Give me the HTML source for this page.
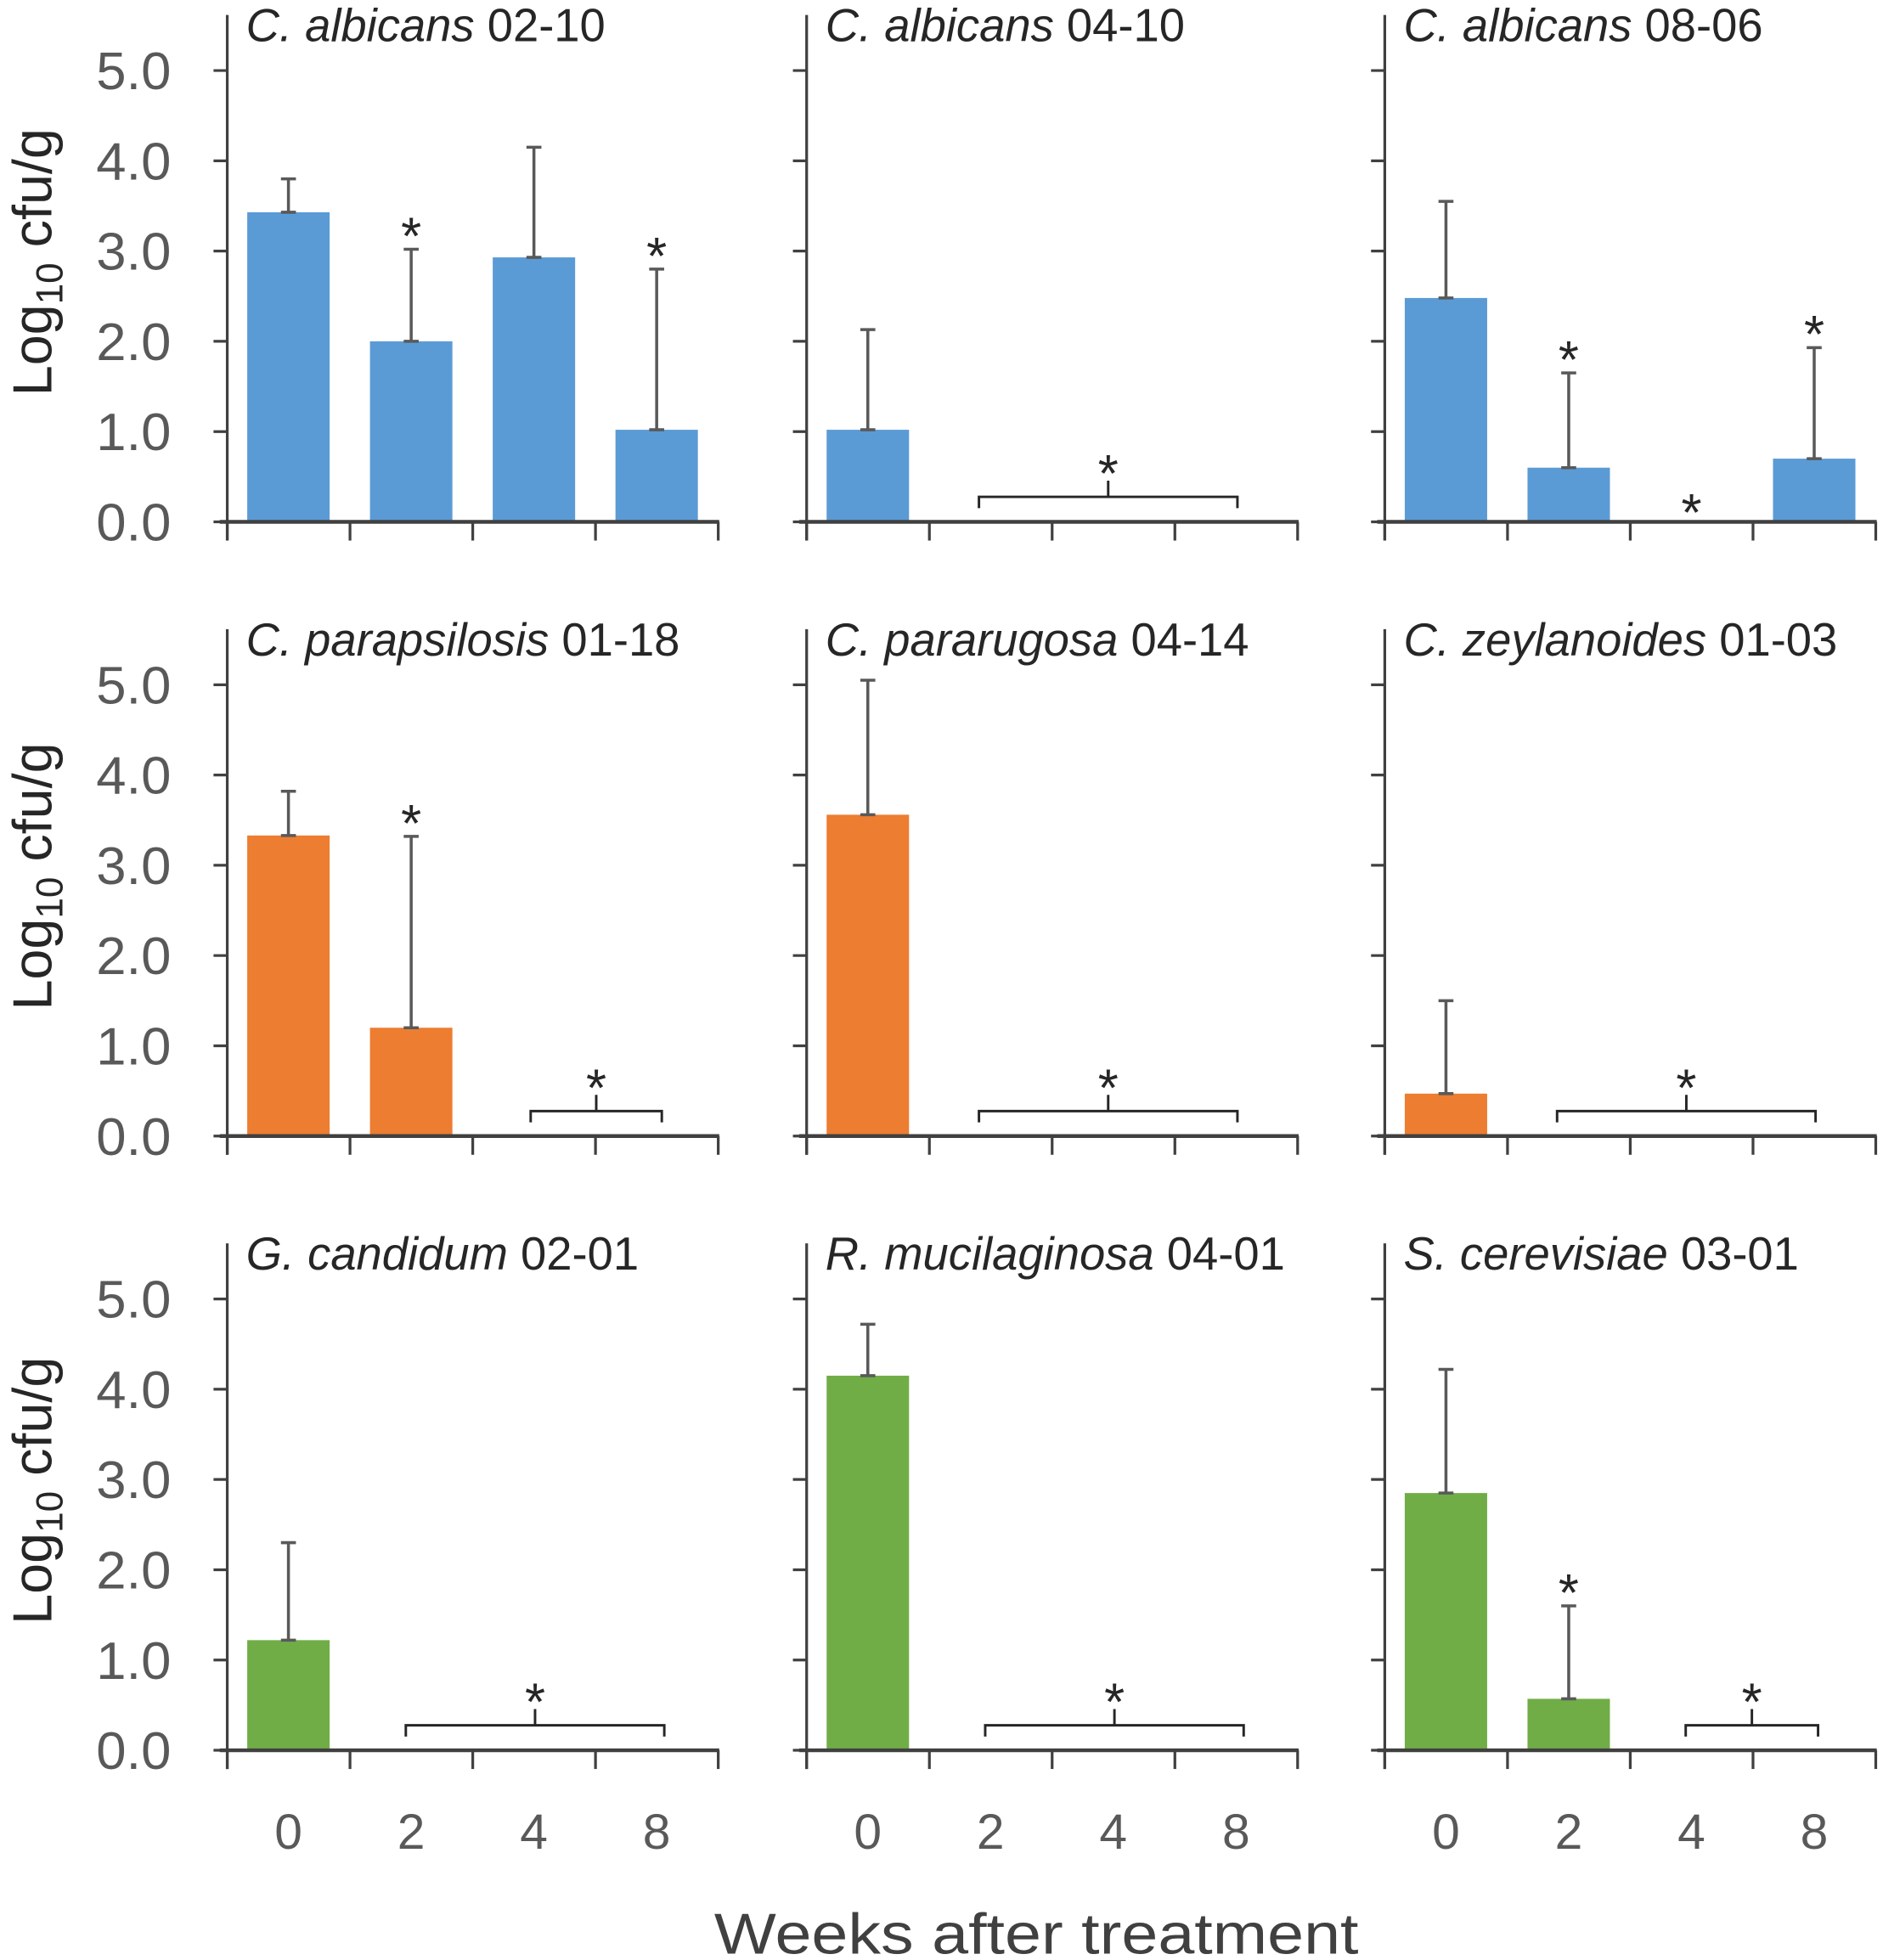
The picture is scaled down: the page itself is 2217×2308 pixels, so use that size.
<!DOCTYPE html>
<html><head><meta charset="utf-8">
<style>html,body{margin:0;padding:0;background:#fff}svg{display:block}</style></head>
<body>
<svg id="s" width="2217" height="2308" viewBox="0 0 1508 1570" preserveAspectRatio="none" xmlns="http://www.w3.org/2000/svg" font-family="'Liberation Sans', sans-serif">
</svg>
<script>
const s=document.getElementById('s');
let h='';
const C=['#5B9BD5','#ED7D31','#70AD47'];
const AX='#404040',TX='#595959';
const cols=[182,646,1109];
const rows=[418,910,1402];
const unit=72.3, sp=98.3;
const titles=[[['C. albicans','02-10'],['C. albicans','04-10'],['C. albicans','08-06']],
[['C. parapsilosis','01-18'],['C. pararugosa','04-14'],['C. zeylanoides','01-03']],
[['G. candidum','02-01'],['R. mucilaginosa','04-01'],['S. cerevisiae','03-01']]];
const data=[
[ {b:[[3.43,3.8,0],[2.0,3.02,1],[2.93,4.15,0],[1.02,2.8,1]]},
  {b:[[1.02,2.13,0]],br:[138,345]},
  {b:[[2.48,3.55,0],[0.6,1.65,1],null,[0.7,1.93,1]],s0:[2]} ],
[ {b:[[3.33,3.82,0],[1.2,3.32,1]],br:[243,348]},
  {b:[[3.56,5.05,0]],br:[138,345]},
  {b:[[0.47,1.5,0]],br:[138,345]} ],
[ {b:[[1.22,2.3,0]],br:[143,350]},
  {b:[[4.15,4.72,0]],br:[143,350]},
  {b:[[2.85,4.22,0],[0.57,1.6,1]],br:[241,347]} ]];
for(let r=0;r<3;r++)for(let c=0;c<3;c++){
 const x0=cols[c],y0=rows[r],d=data[r][c];
 d.b.forEach((b,i)=>{ if(!b)return; const cx=x0+49+i*sp;
  const top=y0-b[0]*unit, et=y0-b[1]*unit;
  h+=`<rect x="${cx-33}" y="${top}" width="66" height="${y0-top}" fill="${C[r]}"/>`;
  h+=`<line x1="${cx}" y1="${top}" x2="${cx}" y2="${et}" stroke="${TX}" stroke-width="2.4"/>`;
  h+=`<line x1="${cx-6}" y1="${et}" x2="${cx+6}" y2="${et}" stroke="${TX}" stroke-width="2.4"/>`;
  h+=`<line x1="${cx-6}" y1="${top}" x2="${cx+6}" y2="${top}" stroke="${TX}" stroke-width="2.4"/>`;
  if(b[2]) h+=`<text x="${cx}" y="${et+4}" font-size="42" text-anchor="middle" fill="#262626">*</text>`;
 });
 if(d.s0) d.s0.forEach(i=>{const cx=x0+49+i*sp;h+=`<text x="${cx}" y="${y0+7}" font-size="42" text-anchor="middle" fill="#262626">*</text>`;});
 if(d.br){ const a=x0+d.br[0], b2=x0+d.br[1], m=(a+b2)/2, yb=y0-20;
  h+=`<path d="M${a} ${y0-11}V${yb}H${b2}V${y0-11}M${m} ${yb}V${yb-13}" fill="none" stroke="#262626" stroke-width="2"/>`;
  h+=`<text x="${m}" y="${yb-4}" font-size="42" text-anchor="middle" fill="#262626">*</text>`;}
 h+=`<line x1="${x0}" y1="${y0-406}" x2="${x0}" y2="${y0+15}" stroke="${AX}" stroke-width="2.2"/>`;
 h+=`<line x1="${x0-6}" y1="${y0}" x2="${x0+394}" y2="${y0}" stroke="${AX}" stroke-width="3"/>`;
 for(let k=0;k<=4;k++){const tx=x0+k*sp;h+=`<line x1="${tx}" y1="${y0}" x2="${tx}" y2="${y0+15}" stroke="${AX}" stroke-width="2.2"/>`;}
 for(let k=0;k<=5;k++){const ty=y0-k*unit;h+=`<line x1="${x0-11}" y1="${ty}" x2="${x0}" y2="${ty}" stroke="${AX}" stroke-width="2.2"/>`;
  if(c==0)h+=`<text x="137" y="${ty+15}" font-size="42" text-anchor="end" fill="${TX}" textLength="60" lengthAdjust="spacingAndGlyphs">${k}.0</text>`;}
 const t=titles[r][c];
 h+=`<text x="${x0+15}" y="${y0-385}" font-size="37" fill="#262626"><tspan font-style="italic">${t[0]}</tspan> ${t[1]}</text>`;
 if(c==0){const cy=y0-208;
  h+=`<text transform="translate(41 ${cy}) rotate(-90)" font-size="44" text-anchor="middle" fill="#262626">Log<tspan font-size="30" dy="9">10</tspan><tspan dy="-9"> cfu/g</tspan></text>`;}
 if(r==2) ['0','2','4','8'].forEach((l,i)=>{h+=`<text x="${x0+49+i*sp}" y="1481" font-size="40" text-anchor="middle" fill="${TX}">${l}</text>`;});
}
h+=`<text x="830" y="1565" font-size="46" text-anchor="middle" fill="#404040" textLength="516" lengthAdjust="spacingAndGlyphs">Weeks after treatment</text>`;
s.innerHTML=h;
</script>
</body></html>
